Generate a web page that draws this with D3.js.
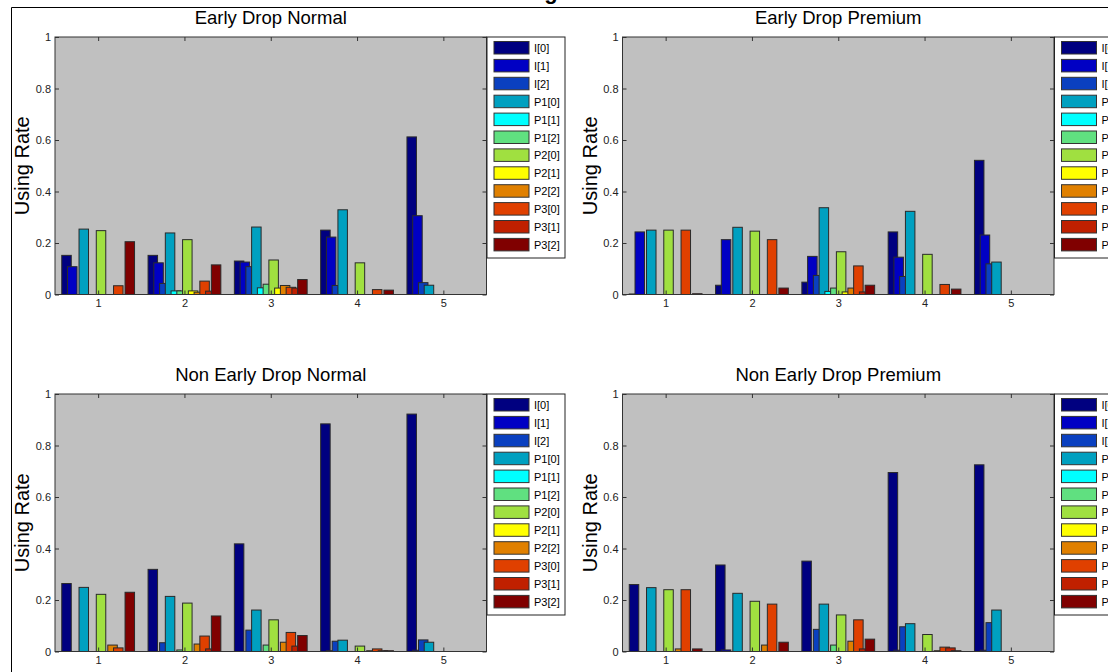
<!DOCTYPE html>
<html>
<head>
<meta charset="utf-8">
<script src="https://cdn.jsdelivr.net/npm/d3@7"></script>
<style>
  body { margin: 0; background: #fff; }
  svg { display: block; font-family: "Liberation Sans", Arial, sans-serif; }
</style>
</head>
<body>
<script>
const groups = [1, 2, 3, 4, 5];
const seriesNames = ['I[0]', 'I[1]', 'I[2]', 'P1[0]', 'P1[1]', 'P1[2]',
                     'P2[0]', 'P2[1]', 'P2[2]', 'P3[0]', 'P3[1]', 'P3[2]'];
const seriesColors = ['#000080', '#0000c4', '#0a40c0', '#00a0c0', '#00ffff', '#60e080',
                      '#a0e040', '#ffff00', '#e08000', '#e04000', '#c02000', '#800000'];
const yTicks = [0, 0.2, 0.4, 0.6, 0.8, 1];

// one row per series, one value per group 1..5
const earlyNormal = [
    [0.152, 0.152, 0.130, 0.250, 0.612],
    [0.108, 0.123, 0.126, 0.223, 0.306],
    [0,     0.043, 0.108, 0.035, 0.046],
    [0.254, 0.239, 0.262, 0.329, 0.036],
    [0,     0.014, 0.026, 0,     0],
    [0,     0.014, 0.040, 0,     0],
    [0.248, 0.213, 0.134, 0.123, 0],
    [0,     0.014, 0.025, 0,     0],
    [0,     0.009, 0.035, 0,     0],
    [0.034, 0.052, 0.028, 0.019, 0],
    [0,     0.013, 0.025, 0,     0],
    [0.205, 0.115, 0.058, 0.017, 0],
];
const earlyPremium = [
    [0.002, 0.036, 0.048, 0.243, 0.521],
    [0.243, 0.213, 0.148, 0.145, 0.231],
    [0,     0,     0.074, 0.070, 0.119],
    [0.250, 0.261, 0.337, 0.323, 0.126],
    [0,     0,     0.012, 0,     0],
    [0,     0,     0.025, 0,     0],
    [0.250, 0.246, 0.166, 0.156, 0],
    [0,     0,     0.010, 0,     0],
    [0,     0,     0.025, 0,     0],
    [0.250, 0.213, 0.111, 0.039, 0],
    [0,     0,     0.010, 0,     0],
    [0.003, 0.025, 0.036, 0.021, 0],
];
const nonEarlyNormal = [
    [0.264, 0.319, 0.418, 0.884, 0.922],
    [0,     0,     0,     0.003, 0.005],
    [0,     0.034, 0.083, 0.040, 0.045],
    [0.249, 0.214, 0.161, 0.044, 0.036],
    [0,     0,     0,     0,     0],
    [0,     0.006, 0.025, 0,     0],
    [0.222, 0.188, 0.123, 0.021, 0],
    [0,     0,     0,     0,     0],
    [0.025, 0.029, 0.036, 0.003, 0],
    [0.014, 0.060, 0.074, 0.010, 0],
    [0,     0.010, 0.021, 0.003, 0],
    [0.230, 0.138, 0.062, 0.003, 0],
];
const nonEarlyPremium = [
    [0.260, 0.336, 0.351, 0.695, 0.725],
    [0,     0.006, 0,     0.005, 0.005],
    [0,     0,     0.086, 0.096, 0.112],
    [0.248, 0.226, 0.184, 0.108, 0.161],
    [0,     0,     0,     0,     0],
    [0,     0,     0.025, 0,     0],
    [0.240, 0.195, 0.142, 0.066, 0],
    [0,     0,     0,     0,     0],
    [0.010, 0.025, 0.040, 0.003, 0],
    [0.240, 0.184, 0.123, 0.017, 0],
    [0,     0,     0.010, 0.014, 0],
    [0.010, 0.036, 0.048, 0.003, 0],
];

const panels = [
    { title: 'Early Drop Normal',      values: earlyNormal,     left: 55,    top: 37 },
    { title: 'Early Drop Premium',     values: earlyPremium,    left: 622.5, top: 37 },
    { title: 'Non Early Drop Normal',  values: nonEarlyNormal,  left: 55,    top: 394 },
    { title: 'Non Early Drop Premium', values: nonEarlyPremium, left: 622.5, top: 394 },
];

function drawPanel(svg, p)
{
    const w = 431.5, h = 257.5;
    const g = svg.append('g').attr('transform', `translate(${p.left},${p.top})`);
    const x = d3.scaleLinear().domain([0.5, 5.5]).range([0, w]);
    const y = d3.scaleLinear().domain([0, 1]).range([h, 0]);
    const slot = d3.scaleBand().domain(d3.range(seriesNames.length)).range([-0.4, 0.4]);
    const barW = x(slot.bandwidth() * 1.65) - x(0);

    g.append('rect').attrs({ width: w, height: h, fill: '#c0c0c0' });

    p.values.forEach((row, si) => {
        g.append('g').selectAll('rect')
            .data(row.map((v, gi) => ({ v, grp: groups[gi] })).filter(d => d.v > 0))
            .enter().append('rect')
            .attrs({
                x: d => x(d.grp + slot(si) + slot.bandwidth() / 2) - barW / 2,
                y: d => y(d.v),
                width: barW,
                height: d => y(0) - y(d.v),
                fill: seriesColors[si],
                stroke: '#2a2a2a',
                'stroke-width': 1,
            });
    });

    const axes = [
        g.append('g').attr('transform', `translate(0,${h})`)
            .call(d3.axisBottom(x).tickValues(groups).tickSize(-4).tickSizeOuter(0).tickPadding(5)
                .tickFormat(d => String(d))),
        g.append('g')
            .call(d3.axisTop(x).tickValues(groups).tickSize(-4).tickSizeOuter(0).tickFormat('')),
        g.append('g')
            .call(d3.axisLeft(y).tickValues(yTicks).tickSize(-4).tickSizeOuter(0).tickPadding(4)
                .tickFormat(d => String(d))),
        g.append('g').attr('transform', `translate(${w},0)`)
            .call(d3.axisRight(y).tickValues(yTicks).tickSize(-4).tickSizeOuter(0).tickFormat('')),
    ];
    axes.forEach(a => {
        a.select('.domain').remove();
        a.selectAll('line').attr('stroke', '#333');
        a.selectAll('text').attrs({ fill: '#222', 'font-size': 11 })
            .style('font-family', '"Liberation Sans", Arial, sans-serif');
    });

    g.append('rect').attrs({ width: w, height: h, fill: 'none', stroke: '#333', 'stroke-width': 1 });

    g.append('text')
        .attrs({ x: w / 2, y: -13, 'text-anchor': 'middle', 'font-size': 18.5, fill: '#000' })
        .text(p.title);
    g.append('text')
        .attrs({
            transform: `translate(${-26},${h / 2}) rotate(-90)`,
            'text-anchor': 'middle', 'font-size': 20, fill: '#000',
        })
        .text('Using Rate');

    // legend
    const lg = g.append('g').attr('transform', `translate(${w + 0.5},0)`);
    lg.append('rect').attrs({ width: 78, height: 221, fill: '#fff', stroke: '#222', 'stroke-width': 1 });
    const item = lg.selectAll('g.item')
        .data(seriesNames).enter().append('g')
        .attr('transform', (d, i) => `translate(7,${4.5 + i * 17.9})`);
    item.append('rect')
        .attrs({
            width: 35, height: 12.5,
            fill: (d, i) => seriesColors[i],
            stroke: '#333', 'stroke-width': 1,
        });
    item.append('text')
        .attrs({ x: 40, y: 10.5, 'font-size': 11, fill: '#000' })
        .text(d => d);
}

function main()
{
    const svg = d3.select('body').append('svg')
        .attrs({ width: 1108, height: 672 });

    svg.append('text')
        .attrs({ x: 554, y: -1, 'text-anchor': 'middle', 'font-size': 22, 'font-weight': 'bold' })
        .text('Using Rate');
    svg.append('path')
        .attrs({ d: 'M11.5,672V7.5H1108', fill: 'none', stroke: '#000', 'stroke-width': 1 });

    panels.forEach(p => drawPanel(svg, p));
}

// small helper like d3-selection-multi
d3.selection.prototype.attrs = function (obj) {
    Object.entries(obj).forEach(([k, v]) => this.attr(k, v));
    return this;
};

main();
</script>
</body>
</html>
